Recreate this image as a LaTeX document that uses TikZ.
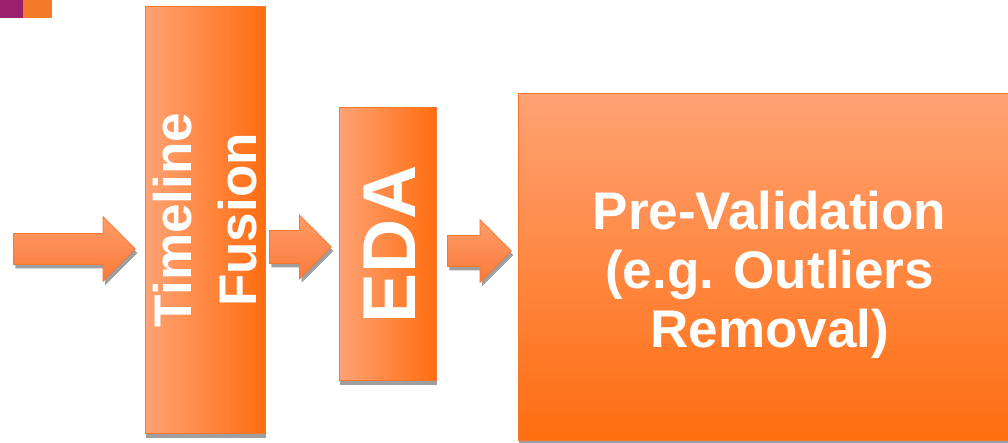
\documentclass[tikz,border=0pt]{standalone}
\usepackage{fontspec}
\setmainfont{Liberation Sans}
\usepackage{tikz}
\usetikzlibrary{positioning,shapes,shapes.arrows,shadows}
\definecolor{boxlight}{HTML}{FFA274}
\definecolor{boxdark}{HTML}{FF6D0F}
\definecolor{boxedge}{HTML}{F2792E}
\definecolor{arrowlight}{HTML}{FF9C68}
\definecolor{arrowdark}{HTML}{FB7A3A}
\definecolor{logopurple}{HTML}{9B1F6C}
\definecolor{logoorange}{HTML}{F47A2A}
\tikzset{%
	procbox/.style={%
		rectangle,
		draw=boxedge,
		line width=1.2pt,
		inner sep=0pt,
		drop shadow={shadow xshift=0pt, shadow yshift=-4pt, fill=gray!75, opacity=1}
	},
	hbox/.style={procbox, left color=boxlight, right color=boxdark},
	vbox/.style={procbox, top color=boxlight, bottom color=boxdark},
	boxlabel/.style={text=white, font=\bfseries, align=center, inner sep=0pt},
	flow/.style={%
		single arrow,
		draw=boxedge,
		line width=0.8pt,
		inner xsep=0pt,
		inner ysep=15pt,
		top color=arrowlight,
		bottom color=arrowdark,
		single arrow tip angle=90,
		anchor=tail,
		drop shadow={shadow xshift=2pt, shadow yshift=-4pt, fill=gray!75, opacity=1}
	}
}

\begin{document}
\begin{tikzpicture}[x=1pt, y=-1pt]
	\useasboundingbox (0,0) rectangle (1008,443);
	% corner marks
	\fill[logopurple] (0,0) rectangle (23,18);
	\fill[logoorange] (23,0) rectangle (52,18);

	\node [hbox, minimum width=120pt, minimum height=427pt, anchor=north west] (fusion) at (145,6) {};
	\node [boxlabel, rotate=90, font=\bfseries\fontsize{53}{65}\selectfont] (fusionlbl) at ([xshift=-1pt]fusion.center) {Timeline\\Fusion};

	\node [hbox, minimum width=97pt, minimum height=273pt, anchor=north west] (eda) at (339,107) {};
	\node [boxlabel, rotate=90, font=\bfseries\fontsize{75}{90}\selectfont] (edalbl) at ([xshift=2pt]eda.center) {EDA};

	\node [vbox, minimum width=502pt, minimum height=347pt, anchor=north west] (preval) at (518,93) {};
	\node [boxlabel, font=\bfseries\fontsize{53}{59}\selectfont] (prevallbl) at ([yshift=-8pt]preval.center) {Pre-Validation\\(e.g. Outliers\\Removal)};

	% block arrows, tails at the left
	\node [flow, minimum height=122pt, minimum width=64pt, single arrow head extend=17pt] (in) at (13,249) {};
	\node [flow, minimum height=62pt, minimum width=63pt, inner ysep=16pt, single arrow head extend=15.5pt] (toeda) at (269,247) {};
	\node [flow, minimum height=64pt, minimum width=62pt, single arrow head extend=16pt] (toval) at (447,251) {};
\end{tikzpicture}
\end{document}
